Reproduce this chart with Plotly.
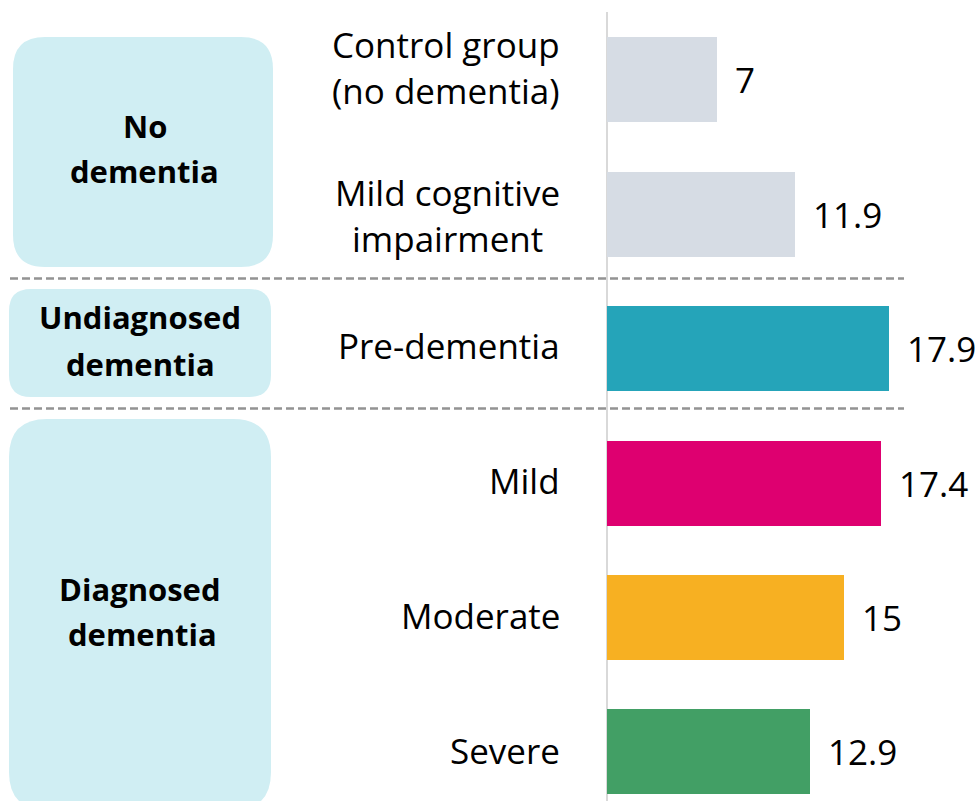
import plotly.graph_objects as go

# ---- data ----
categories = ["Control group<br>(no dementia)", "Mild cognitive<br>impairment",
              "Pre-dementia", "Mild", "Moderate", "Severe"]
values = [7, 11.9, 17.9, 17.4, 15, 12.9]
value_labels = ["7", "11.9", "17.9", "17.4", "15", "12.9"]
group_names = ["No<br>dementia", "Undiagnosed<br>dementia", "Diagnosed<br>dementia"]

# ---- styles ----
bar_colors = ["#D6DCE4", "#D6DCE4", "#25A4B9", "#DE0070", "#F7B022", "#429F65"]
BOX = "#D0EEF3"
FONT = "Open Sans, sans-serif"

W, H = 979, 801
TOP = 12


def px(x):  # window x (pixels) -> paper x
    return x / W


def py(y):  # window y (pixels) -> paper y
    return (H - y) / (H - TOP)


def rrect(x0, y0, x1, y1, r):
    pts = [
        f"M {px(x0 + r)},{py(y0)}",
        f"L {px(x1 - r)},{py(y0)}",
        f"Q {px(x1)},{py(y0)} {px(x1)},{py(y0 + r)}",
        f"L {px(x1)},{py(y1 - r)}",
        f"Q {px(x1)},{py(y1)} {px(x1 - r)},{py(y1)}",
        f"L {px(x0 + r)},{py(y1)}",
        f"Q {px(x0)},{py(y1)} {px(x0)},{py(y1 - r)}",
        f"L {px(x0)},{py(y0 + r)}",
        f"Q {px(x0)},{py(y0)} {px(x0 + r)},{py(y0)}",
        "Z",
    ]
    return " ".join(pts)


fig = go.Figure()
fig.add_trace(go.Bar(
    x=values, y=categories, orientation="h",
    marker=dict(color=bar_colors, line=dict(width=0)),
    width=0.632, hoverinfo="skip", showlegend=False,
))

zero_px = 606.5
scale = 15.8
row0, step = 79.83, 134.4

shapes = []
# group boxes
for (x0, y0, x1, y1, r) in [(13, 37, 273, 267, 32), (9, 289, 271, 397, 22), (9, 419, 271, 810, 38)]:
    shapes.append(dict(type="path", path=rrect(x0, y0, x1, y1, r), xref="paper", yref="paper",
                       fillcolor=BOX, line=dict(width=0), layer="below"))
# dashed separators
for yy in (278.5, 408.5):
    shapes.append(dict(type="line", xref="paper", yref="paper", x0=px(10), x1=px(904),
                       y0=py(yy), y1=py(yy), line=dict(color="#939393", width=2.5, dash="8px,4px"),
                       layer="below"))

annotations = []
label_shift = [12, -1.5, 3.5, 2.5, 1.5, 1]
for cat, sh in zip(categories, label_shift):
    annotations.append(dict(x=0, y=cat, xref="x", yref="y", text=cat, showarrow=False,
                            xanchor="right", yanchor="middle", align="center",
                            xshift=-44.5, yshift=sh,
                            font=dict(family=FONT, size=35, color="#000000")))
for cat, v, t in zip(categories, values, value_labels):
    annotations.append(dict(x=v, y=cat, xref="x", yref="y", text=t, showarrow=False,
                            xanchor="left", yanchor="middle", xshift=16, yshift=0,
                            font=dict(family=FONT, size=35, color="#000000")))
# group labels, one line at a time
group_pos = [[(144.5, 126), (144.5, 171.5)], [(139.5, 317.5), (140.5, 364)], [(140, 589), (142.5, 633.5)]]
for name, pos in zip(group_names, group_pos):
    for line, (gx, gy) in zip(name.split("<br>"), pos):
        annotations.append(dict(x=px(gx), y=py(gy), xref="paper", yref="paper", text=f"<b>{line}</b>",
                                showarrow=False, xanchor="center", yanchor="middle",
                                font=dict(family=FONT, size=31, color="#000000")))

fig.update_layout(
    width=W, height=H,
    margin=dict(l=0, r=0, t=TOP, b=0, pad=0),
    paper_bgcolor="white", plot_bgcolor="rgba(0,0,0,0)",
    xaxis=dict(range=[-zero_px / scale, (W - zero_px) / scale], showgrid=False, showticklabels=False,
               ticks="", zeroline=True, zerolinecolor="#D9D9D9", zerolinewidth=2, fixedrange=True),
    yaxis=dict(type="category", range=[(H - row0) / step, (TOP - row0) / step], showgrid=False,
               showticklabels=False, ticks="", zeroline=False, fixedrange=True),
    shapes=shapes, annotations=annotations, bargap=0,
)

fig.write_html("out.html", config={"displayModeBar": False},
               post_script="document.body.style.margin='0px';document.body.style.overflow='hidden';")
